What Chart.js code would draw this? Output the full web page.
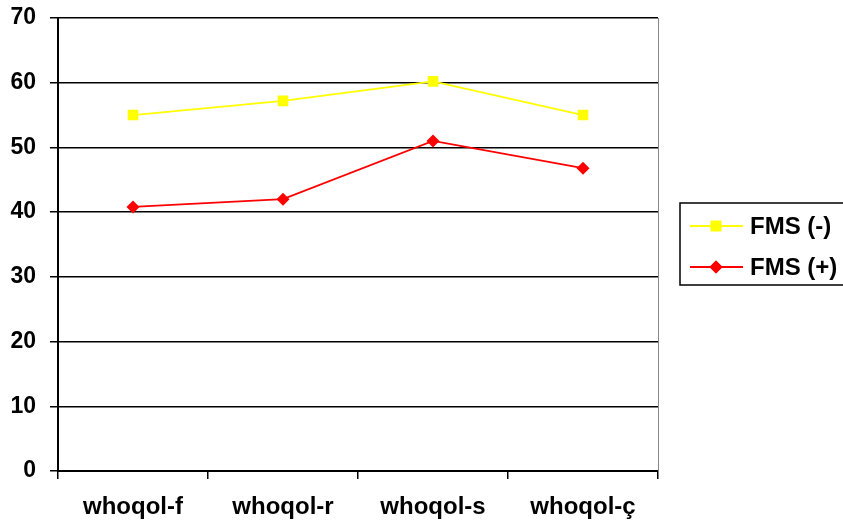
<!DOCTYPE html>
<html>
<head>
<meta charset="utf-8">
<script src="https://cdn.jsdelivr.net/npm/chart.js@4/dist/chart.umd.min.js"></script>
<style>
  html, body { margin: 0; padding: 0; background: #fff; }
  #wrap { width: 843px; height: 525px; }
</style>
</head>
<body>
<div id="wrap"><canvas id="chart" width="843" height="525"></canvas></div>
<script>
// Categories and series
const categories = ['whoqol-f', 'whoqol-r', 'whoqol-s', 'whoqol-ç'];
const fmsNeg = [55.0, 57.2, 60.2, 55.0];
const fmsPos = [40.8, 42.0, 51.0, 46.8];
const yTicks = [0, 10, 20, 30, 40, 50, 60, 70];

const FONT = 'Liberation Sans, Arial, sans-serif';

// Boxed legend at the right, with a line + marker sample per series
const boxLegend = {
    id: 'boxLegend',
    afterDraw(chart) {
        const ctx = chart.ctx;
        const left = 680, top = 203, bottom = 285;
        ctx.save();
        ctx.strokeStyle = '#000';
        ctx.lineWidth = 1.5;
        ctx.strokeRect(left, top, chart.width - left + 5, bottom - top);
        chart.data.datasets.forEach((ds, i) => {
            const y = 226 + i * 41;
            ctx.strokeStyle = ds.borderColor;
            ctx.lineWidth = 1.8;
            ctx.beginPath();
            ctx.moveTo(690, y);
            ctx.lineTo(743, y);
            ctx.stroke();
            ctx.fillStyle = ds.pointBackgroundColor;
            Chart.helpers.drawPoint(ctx, {
                pointStyle: ds.pointStyle,
                rotation: 0,
                radius: ds.pointRadius,
                borderWidth: 0
            }, 716, y);
            ctx.fill();
            ctx.fillStyle = '#000';
            ctx.font = 'bold 24px ' + FONT;
            ctx.textBaseline = 'middle';
            ctx.textAlign = 'left';
            ctx.fillText(ds.label, 750, y + 1);
        });
        // right edge of the plot frame
        const a = chart.chartArea;
        ctx.strokeStyle = '#888';
        ctx.lineWidth = 1;
        ctx.beginPath();
        ctx.moveTo(a.right + 0.5, a.top);
        ctx.lineTo(a.right + 0.5, a.bottom);
        ctx.stroke();
        ctx.restore();
    }
};

new Chart(document.getElementById('chart'), {
    type: 'line',
    data: {
        labels: categories,
        datasets: [
            {
                label: 'FMS (-)',
                data: fmsNeg,
                borderColor: '#ffff00',
                backgroundColor: '#ffff00',
                pointBackgroundColor: '#ffff00',
                pointBorderWidth: 0,
                pointStyle: 'rect',
                pointRadius: 7.5,
                borderWidth: 1.8,
                tension: 0
            },
            {
                label: 'FMS (+)',
                data: fmsPos,
                borderColor: '#ff0000',
                backgroundColor: '#ff0000',
                pointBackgroundColor: '#ff0000',
                pointBorderWidth: 0,
                pointStyle: 'rectRot',
                pointRadius: 6.5,
                borderWidth: 1.8,
                tension: 0
            }
        ]
    },
    options: {
        responsive: false,
        animation: false,
        layout: { padding: { top: 18, right: 185, left: 0, bottom: 0 } },
        plugins: {
            legend: { display: false },
            tooltip: { enabled: false }
        },
        scales: {
            x: {
                offset: true,
                grid: {
                    offset: true,
                    drawOnChartArea: false,
                    drawTicks: true,
                    tickLength: 8,
                    color: '#000',
                    lineWidth: 1.5
                },
                border: { color: '#000', width: 2 },
                ticks: {
                    color: '#000',
                    padding: 14,
                    font: { family: FONT, size: 24, weight: 'bold' }
                },
                afterFit(scale) {
                    scale.height = 54;
                    scale.paddingLeft = 0;
                    scale.paddingRight = 0;
                }
            },
            y: {
                min: 0,
                max: 70,
                afterBuildTicks(scale) {
                    scale.ticks = yTicks.map(v => ({ value: v }));
                },
                grid: {
                    color: '#000',
                    lineWidth: 1.5,
                    tickLength: 8
                },
                border: { color: '#000', width: 2 },
                ticks: {
                    color: '#000',
                    padding: 14,
                    font: { family: FONT, size: 23, weight: 'bold' }
                },
                afterFit(scale) {
                    scale.width = 58;
                    scale.paddingTop = 0;
                    scale.paddingBottom = 0;
                }
            }
        }
    },
    plugins: [boxLegend]
});
</script>
</body>
</html>
